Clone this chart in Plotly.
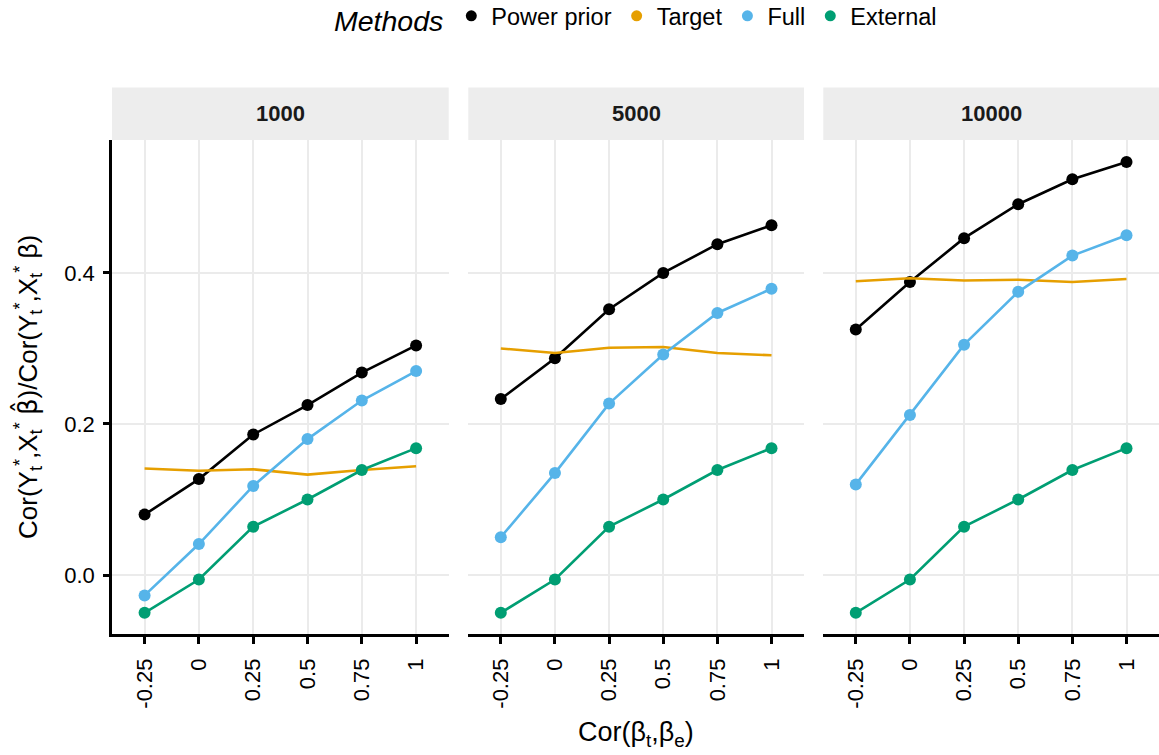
import plotly.graph_objects as go

# Correlation between target and external coefficients (x categories)
cor_levels = ["-0.25", "0", "0.25", "0.5", "0.75", "1"]

# Facet panels (sample size of external data)
panels = ["1000", "5000", "10000"]

methods = ["Power prior", "Target", "Full", "External"]
colors = {"Power prior": "#000000", "Target": "#E69F00",
          "Full": "#56B4E9", "External": "#009E73"}

# Relative prediction correlation per method, one list per panel
power_prior = {
    "1000":  [0.080, 0.127, 0.186, 0.225, 0.268, 0.304],
    "5000":  [0.233, 0.287, 0.352, 0.400, 0.438, 0.463],
    "10000": [0.325, 0.388, 0.446, 0.491, 0.524, 0.547],
}
target = {
    "1000":  [0.141, 0.138, 0.140, 0.133, 0.139, 0.144],
    "5000":  [0.300, 0.294, 0.301, 0.302, 0.294, 0.291],
    "10000": [0.389, 0.393, 0.390, 0.391, 0.388, 0.392],
}
full = {
    "1000":  [-0.027, 0.041, 0.118, 0.180, 0.231, 0.270],
    "5000":  [0.050, 0.135, 0.227, 0.292, 0.347, 0.379],
    "10000": [0.120, 0.212, 0.305, 0.375, 0.423, 0.450],
}
external = {
    "1000":  [-0.050, -0.006, 0.064, 0.100, 0.139, 0.168],
    "5000":  [-0.050, -0.006, 0.064, 0.100, 0.139, 0.168],
    "10000": [-0.050, -0.006, 0.064, 0.100, 0.139, 0.168],
}
series = {"Power prior": power_prior, "Target": target,
          "Full": full, "External": external}

W, H = 1159, 755
FONT = "Liberation Sans, Arial, Helvetica, sans-serif"

# panel extents in pixels
x_px = [(112, 448.7), (468.3, 804), (823.3, 1159)]
y_top_px, y_bot_px = 140, 634
strip_top_px = 87.5

def px_x(v):
    return v / W

def px_y(v):
    return 1 - v / H

fig = go.Figure()

for i, p in enumerate(panels):
    ax = "" if i == 0 else str(i + 1)
    for m in methods:
        mode = "lines" if m == "Target" else "lines+markers"
        fig.add_trace(go.Scatter(
            x=cor_levels, y=series[m][p], mode=mode, name=m,
            line=dict(color=colors[m], width=2.6),
            marker=dict(color=colors[m], size=12),
            showlegend=False, xaxis="x" + ax, yaxis="y" + ax,
        ))

# legend entries (points only)
for m in methods:
    fig.add_trace(go.Scatter(
        x=[None], y=[None], mode="markers", name=m,
        marker=dict(color=colors[m], size=11), showlegend=True,
    ))

y_dom = [px_y(y_bot_px), px_y(y_top_px)]
y_range = [-0.0781, 0.576]

layout = dict(
    width=W, height=H,
    margin=dict(l=0, r=0, t=0, b=0, autoexpand=False),
    paper_bgcolor="white", plot_bgcolor="white",
    font=dict(family=FONT, color="black", size=22),
    showlegend=True,
    legend=dict(
        orientation="h", x=637 / W, xanchor="center",
        y=px_y(18), yanchor="middle",
        title=dict(text="<i>Methods</i>", font=dict(size=28.5), side="left"),
        font=dict(size=23.5), itemsizing="trace", tracegroupgap=0,
        bgcolor="rgba(0,0,0,0)",
    ),
)

for i in range(3):
    ax = "" if i == 0 else str(i + 1)
    layout["xaxis" + ax] = dict(
        domain=[px_x(x_px[i][0]), px_x(x_px[i][1])],
        anchor="y" + ax, type="category", categoryarray=cor_levels,
        range=[-0.6, 5.6], showgrid=True, gridcolor="#EBEBEB", gridwidth=2,
        showline=True, linecolor="black", linewidth=2.5,
        ticks="outside", ticklen=7, tickwidth=2.5, tickcolor="black",
        tickangle=-90, tickfont=dict(size=22), ticklabelstandoff=6,
        zeroline=False, fixedrange=True,
    )
    layout["yaxis" + ax] = dict(
        domain=y_dom, anchor="x" + ax, range=y_range,
        tickvals=[0.0, 0.2, 0.4], tickformat=".1f",
        showgrid=True, gridcolor="#EBEBEB", gridwidth=2,
        zeroline=False, fixedrange=True,
        showline=(i == 0), linecolor="black", linewidth=2.5,
        ticks="outside" if i == 0 else "", ticklen=6, tickwidth=2.5,
        tickcolor="black", showticklabels=(i == 0),
        tickfont=dict(size=22), ticklabelstandoff=4,
    )

shapes = []
annotations = []
for i, p in enumerate(panels):
    shapes.append(dict(
        type="rect", xref="paper", yref="paper",
        x0=px_x(x_px[i][0]), x1=px_x(x_px[i][1]),
        y0=px_y(y_top_px), y1=px_y(strip_top_px),
        fillcolor="#EDEDED", line=dict(width=0), layer="below",
    ))
    annotations.append(dict(
        text="<b>%s</b>" % p, xref="paper", yref="paper",
        x=px_x((x_px[i][0] + x_px[i][1]) / 2), y=px_y(113.5),
        xanchor="center", yanchor="middle", showarrow=False,
        font=dict(size=22, color="#1A1A1A"),
    ))

annotations.append(dict(
    text="Cor(β<sub>t</sub>,β<sub>e</sub>)", xref="paper", yref="paper",
    x=px_x(635.5), y=px_y(734), xanchor="center", yanchor="middle",
    showarrow=False, font=dict(size=27),
))
beta_hat = '<span style="font-family:DejaVu Sans">\u03b2\u0302</span>'
annotations.append(dict(
    text=("Cor(Y<sub>t</sub><sup>*</sup>,X<sub>t</sub><sup>*</sup> " + beta_hat +
          ")/Cor(Y<sub>t</sub><sup>*</sup>,X<sub>t</sub><sup>*</sup> \u03b2)"),
    xref="paper", yref="paper", x=px_x(28), y=px_y(387),
    xanchor="center", yanchor="middle", textangle=-90,
    showarrow=False, font=dict(size=26),
))

layout["shapes"] = shapes
layout["annotations"] = annotations
fig.update_layout(**layout)

fig.write_html("out.html")
